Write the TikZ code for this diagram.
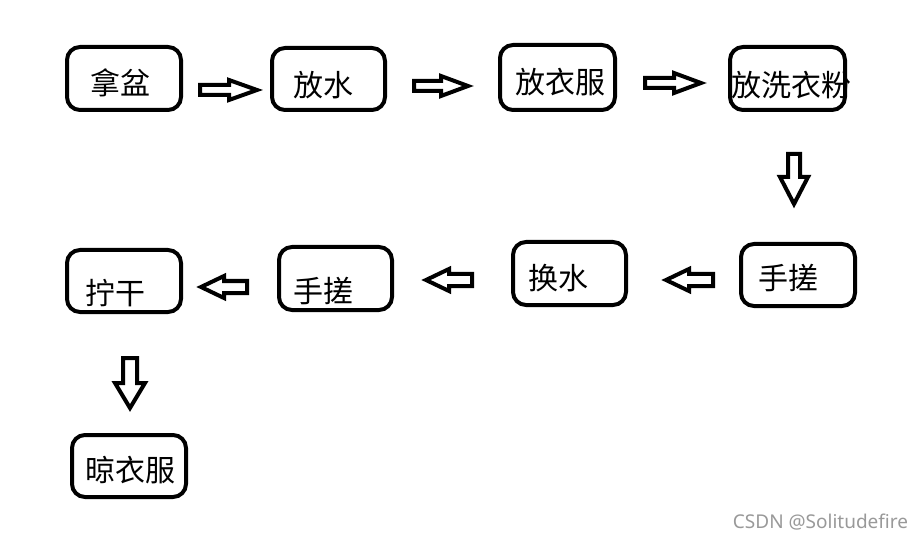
\documentclass[tikz,border=0pt]{standalone}
\usepackage{fontspec}
\newfontfamily\cjk{Noto Sans CJK SC}
\newfontfamily\wmfont{Noto Sans}
\tikzset{
  box/.style={draw=black, line width=4pt, rounded corners=13pt, inner sep=0pt},
  lbl/.style={font=\cjk\fontsize{30}{36}\selectfont, inner sep=0pt, text=black},
  arr/.style={draw=black, line width=4pt, line join=miter, fill=white},
}
% \blockarrow{tail x}{tail y}{length}{rotation}{shaft half}{head half}{head len}
\newcommand\blockarrow[7]{%
  \begin{scope}[shift={(#1,#2)},rotate=#4]
    \draw[arr] (0,-#5) -- ({#3-#7},-#5) -- ({#3-#7},-#6) -- (#3,0)
      -- ({#3-#7},#6) -- ({#3-#7},#5) -- (0,#5) -- cycle;
  \end{scope}}
\begin{document}
\begin{tikzpicture}[x=1pt,y=-1pt]
\useasboundingbox[fill=white] (0,0) rectangle (924,540);
% boxes
\node[box, minimum width=114pt, minimum height=63pt] (b1) at (124,78.5) {};
\node[box, minimum width=113pt, minimum height=62pt] (b2) at (328.5,79) {};
\node[box, minimum width=115pt, minimum height=65pt] (b3) at (557.5,77.5) {};
\node[box, minimum width=115pt, minimum height=63pt] (b4) at (787.5,78.5) {};
\node[box, minimum width=114pt, minimum height=62pt] (b5) at (798,275) {};
\node[box, minimum width=113pt, minimum height=63pt] (b6) at (569.5,273.5) {};
\node[box, minimum width=113pt, minimum height=63pt] (b7) at (335.5,278.5) {};
\node[box, minimum width=114pt, minimum height=62pt] (b8) at (124,281) {};
\node[box, minimum width=114pt, minimum height=62pt] (b9) at (129,466) {};
% labels
\node[lbl] (t1) at (120,83) {拿盆};
\node[lbl] (t2) at (323,85) {放水};
\node[lbl] (t3) at (560,82) {放衣服};
\node[lbl] (t4) at (791,85) {放洗衣粉};
\node[lbl] (t5) at (788,278) {手搓};
\node[lbl] (t6) at (558,278) {换水};
\node[lbl] (t7) at (323,291) {手搓};
\node[lbl] (t8) at (115,293) {拧干};
\node[lbl] (t9) at (130,470) {晾衣服};
% block arrows
\blockarrow{200}{90}{57}{0}{5}{10}{28}
\blockarrow{414}{86}{54}{0}{5}{10}{27}
\blockarrow{645}{83}{56}{0}{5}{10}{27}
\blockarrow{794}{154}{50}{-90}{6}{14}{27}
\blockarrow{713}{280}{47}{180}{6}{11}{23}
\blockarrow{472}{280}{46}{180}{6}{11}{23}
\blockarrow{247}{287}{46}{180}{6}{11}{23}
\blockarrow{130}{358}{50}{-90}{7}{15}{25}
% watermark
\node[font=\wmfont\fontsize{19}{23}\selectfont, text=black!40, inner sep=0pt] (wm) at (820.5,522) {CSDN @Solitudefire};
\end{tikzpicture}
\end{document}
